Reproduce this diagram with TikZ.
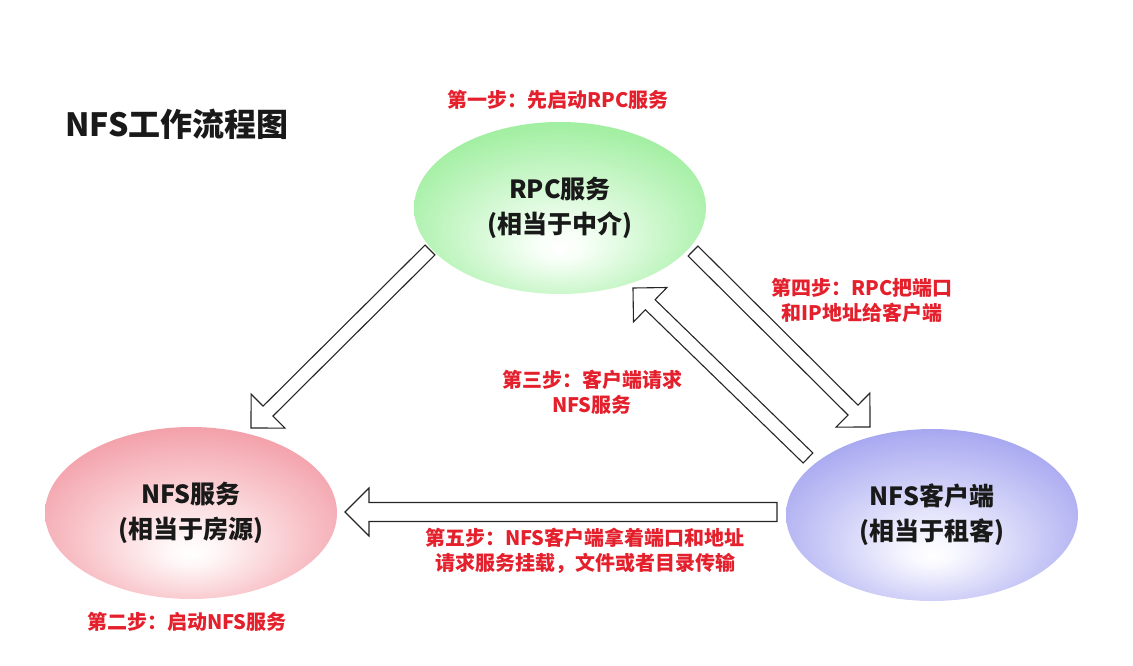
\documentclass[tikz,border=0pt]{standalone}
\usepackage{fontspec}
\setmainfont{Noto Sans CJK SC}
\usetikzlibrary{calc,shapes.geometric}

\definecolor{steptext}{RGB}{228,32,45}
\definecolor{nodetext}{RGB}{25,25,25}
\pgfdeclareradialshading{rpcshade}{\pgfpoint{0bp}{-12bp}}{rgb(0bp)=(1,1,1);
  rgb(4bp)=(0.97,1,0.97);rgb(32bp)=(0.6,0.93,0.6);rgb(50bp)=(0.6,0.93,0.6)}
\pgfdeclareradialshading{nfsshade}{\pgfpoint{0bp}{-12bp}}{rgb(0bp)=(1,1,1);
  rgb(4bp)=(1,0.97,0.97);rgb(32bp)=(0.95,0.6,0.64);rgb(50bp)=(0.95,0.6,0.64)}
\pgfdeclareradialshading{cltshade}{\pgfpoint{0bp}{-12bp}}{rgb(0bp)=(1,1,1);
  rgb(4bp)=(0.97,0.97,1);rgb(32bp)=(0.63,0.63,0.94);rgb(50bp)=(0.63,0.63,0.94)}

% hollow block arrow: [shaft half width]{from}{tip}
\newcommand\blockarrow[3][7pt]{%
  \coordinate (neck) at ($(#3)!24pt!(#2)$);
  \draw[hollow@] ($(#2)!#1!90:(#3)$) -- ($(neck)!#1!-90:(#2)$)
    -- ($(neck)!24pt!-90:(#2)$) -- (#3) -- ($(neck)!24pt!90:(#2)$)
    -- ($(neck)!#1!90:(#2)$) -- ($(#2)!#1!-90:(#3)$) -- cycle;}

\begin{document}
\begin{tikzpicture}[x=1pt,y=-1pt,line join=miter,
    party@/.style={ellipse,minimum width=292,minimum height=172,inner sep=0pt,
      align=center,text=nodetext,
      font=\bfseries\fontsize{25}{35}\selectfont},
    steplbl/.style={align=center,text=steptext,
      font=\bfseries\fontsize{20}{25}\selectfont},
    hollow@/.style={draw=black!85,fill=white,line width=1.1pt}]
  \useasboundingbox (0,0) rectangle (1133,666);

  % Title.
  \node[text=nodetext,font=\bfseries\fontsize{32}{38}\selectfont]
    (title) at (177,124) {NFS工作流程图};

  % The three parties.
  \node[party@,shading=rpcshade] (rpc) at (560,208) {RPC服务\\(相当于中介)};
  \node[party@,shading=nfsshade] (nfs) at (191,513) {NFS服务\\(相当于房源)};
  \node[party@,shading=cltshade] (client) at (932,515) {NFS客户端\\(相当于租客)};

  % Ends of the arrows.
  \coordinate (a1s) at (430,250); \coordinate (a1e) at (251,428);
  \coordinate (a2s) at (693,251); \coordinate (a2e) at (870,427);
  \coordinate (a3s) at (808,458); \coordinate (a3e) at (633,288);
  \coordinate (a4s) at (777,512); \coordinate (a4e) at (345,512);

  \blockarrow{a1s}{a1e}
  \blockarrow{a2s}{a2e}
  \blockarrow{a3s}{a3e}
  \blockarrow[9.5pt]{a4s}{a4e}

  % The steps.
  \node[steplbl] (step1) at (558,100) {第一步：先启动RPC服务};
  \node[steplbl] (step2) at (187,622) {第二步：启动NFS服务};
  \node[steplbl] (step3) at (592,392) {第三步：客户端请求\\NFS服务};
  \node[steplbl] (step4) at (862,300) {第四步：RPC把端口\\和IP地址给客户端};
  \node[steplbl] (step5) at (585,551)
    {第五步：NFS客户端拿着端口和地址\\请求服务挂载，文件或者目录传输};
\end{tikzpicture}
\end{document}
